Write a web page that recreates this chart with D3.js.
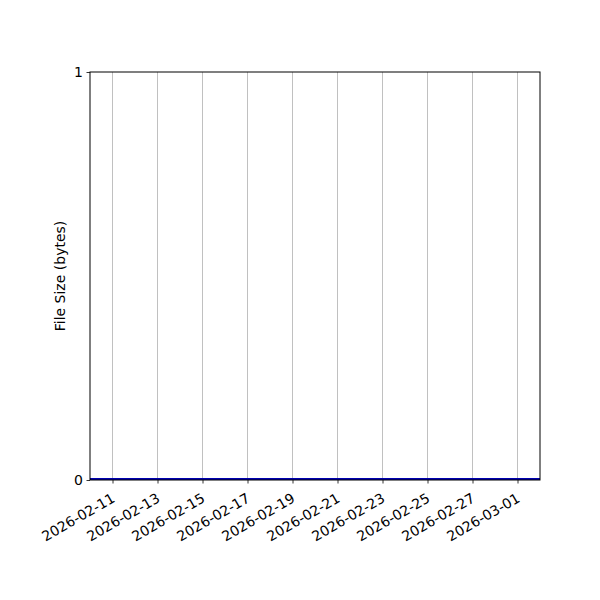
<!DOCTYPE html>
<html>
<head>
<meta charset="utf-8">
<script src="https://cdn.jsdelivr.net/npm/d3@7"></script>
<style>
body { margin: 0; background: white; }
text { font-family: "DejaVu Sans", sans-serif; }
</style>
</head>
<body>
<script>
// data
var dates = ["2026-02-10", "2026-03-02"];
var sizes = [0, 0];
var tickDates = ["2026-02-11","2026-02-13","2026-02-15","2026-02-17","2026-02-19",
                 "2026-02-21","2026-02-23","2026-02-25","2026-02-27","2026-03-01"];
var yTicks = [0, 1];

var w = 600, h = 600;
var mLeft = 90, mRight = 540, mTop = 72, mBottom = 480;
var parse = d3.utcParse("%Y-%m-%d");

var svg = d3.select("body").append("svg")
  .attr("width", w)
  .attr("height", h);

var x = d3.scaleUtc()
  .domain([parse("2026-02-10"), parse("2026-03-02")])
  .range([mLeft, mRight]);
var y = d3.scaleLinear()
  .domain([0, 1])
  .range([mBottom, mTop]);

// vertical grid
svg.append("g").selectAll("line")
  .data(tickDates)
  .join("line")
  .attr("x1", function(d){ return x(parse(d)); })
  .attr("x2", function(d){ return x(parse(d)); })
  .attr("y1", mTop)
  .attr("y2", mBottom)
  .attr("stroke", "#b0b0b0")
  .attr("stroke-width", 0.8);

// data line
var line = d3.line()
  .x(function(d, i){ return x(parse(dates[i])); })
  .y(function(d){ return y(d); });
svg.append("path")
  .datum(sizes)
  .attr("d", line)
  .attr("fill", "none")
  .attr("stroke", "#0000b0")
  .attr("stroke-width", 2)
  .attr("transform", "translate(0,-1)");

// axes
var xAxis = d3.axisBottom(x)
  .tickValues(tickDates.map(parse))
  .tickFormat(d3.utcFormat("%Y-%m-%d"))
  .tickSize(3.5)
  .tickSizeOuter(0);
var gx = svg.append("g")
  .attr("transform", "translate(0," + mBottom + ")")
  .call(xAxis);
gx.select(".domain").remove();
gx.selectAll("line").attr("stroke", "black").attr("stroke-width", 0.8);
gx.selectAll("text")
  .attr("font-size", 14)
  .attr("font-family", "DejaVu Sans")
  .attr("fill", "black")
  .attr("text-anchor", "end")
  .attr("dy", null)
  .attr("y", 0)
  .attr("transform", "translate(3,21) rotate(-30)");

var yAxis = d3.axisLeft(y)
  .tickValues(yTicks)
  .tickFormat(d3.format("d"))
  .tickSize(3.5)
  .tickSizeOuter(0);
var gy = svg.append("g")
  .attr("transform", "translate(" + mLeft + ",0)")
  .call(yAxis);
gy.select(".domain").remove();
gy.selectAll("line").attr("stroke", "black").attr("stroke-width", 0.8);
gy.selectAll("text")
  .attr("font-size", 14)
  .attr("font-family", "DejaVu Sans")
  .attr("fill", "black")
  .attr("x", -7);

// frame
svg.append("rect")
  .attr("x", mLeft)
  .attr("y", mTop)
  .attr("width", mRight - mLeft)
  .attr("height", mBottom - mTop)
  .attr("fill", "none")
  .attr("stroke", "black")
  .attr("stroke-width", 1);

svg.append("text")
  .attr("transform", "translate(65," + ((mTop + mBottom) / 2) + ") rotate(-90)")
  .attr("text-anchor", "middle")
  .attr("font-size", 14)
  .text("File Size (bytes)");
</script>
</body>
</html>
